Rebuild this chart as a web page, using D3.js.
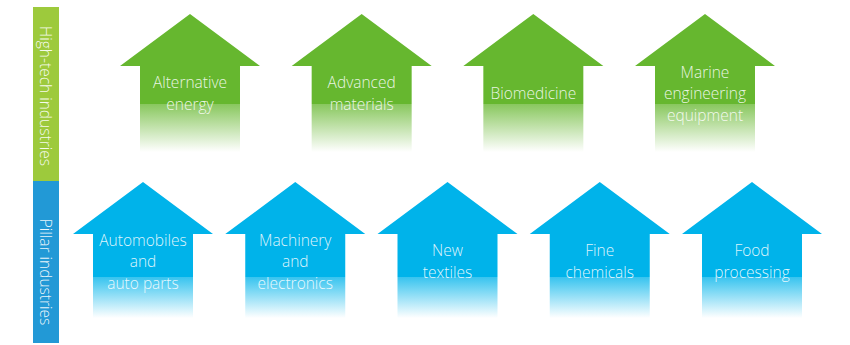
<!DOCTYPE html>
<html>
<head>
<meta charset="utf-8">
<script src="https://cdn.jsdelivr.net/npm/d3@7"></script>
<style>
  html, body { margin: 0; padding: 0; background: #fff; }
  svg { display: block; }
  text { font-family: "Open Sans", "DejaVu Sans", sans-serif; font-weight: 300; }
</style>
</head>
<body>
<svg id="chart" width="850" height="345"></svg>
<script>
// Industry groups and their members (line breaks separated by "|")
const groupNames = ["High-tech industries", "Pillar industries"];
const highTech = ["Alternative|energy", "Advanced|materials", "Biomedicine", "Marine|engineering|equipment"];
const pillar = ["Automobiles|and|auto parts", "Machinery|and|electronics", "New|textiles", "Fine|chemicals", "Food|processing"];

const svg = d3.select("#chart");
const defs = svg.append("defs");

// Row layout: arrow top, arrow bottom, x-range of arrow centres
const rows = [
  { name: groupNames[0], items: highTech, color: "#66b72f", band: "#9dca3c",
    top: 14, bottom: 152, xr: [190, 705], fade: 0.65, bandY: [7, 181], labelY: 96, textY: 99 },
  { name: groupNames[1], items: pillar, color: "#00b3ea", band: "#2299d6",
    top: 182, bottom: 318, xr: [143, 752], fade: 0.70, bandY: [181, 343], labelY: 272, textY: 267 }
];

const headHalf = 70, shaftHalf = 50, headH = 52;
const lineH = 21.5;

// Vertical group bands on the left
const bandX = d3.scaleBand().domain(["band"]).range([33, 59]);

rows.forEach((row, ri) => {
  const g = svg.append("g");

  g.append("rect")
    .attr("x", bandX("band"))
    .attr("width", bandX.bandwidth())
    .attr("y", row.bandY[0])
    .attr("height", row.bandY[1] - row.bandY[0])
    .attr("fill", row.band);

  g.append("text")
    .attr("transform", `translate(${39.5},${row.labelY}) rotate(90)`)
    .attr("text-anchor", "middle")
    .attr("font-size", 15.5)
    .attr("fill", "#fff")
    .attr("fill-opacity", 0.92)
    .text(row.name);

  // Fading gradient for the arrow shafts
  const gid = "fade" + ri;
  const grad = defs.append("linearGradient")
    .attr("id", gid)
    .attr("gradientUnits", "userSpaceOnUse")
    .attr("x1", 0).attr("x2", 0)
    .attr("y1", row.top).attr("y2", row.bottom);
  const light = d3.interpolateRgb(row.color, "#ffffff")(0.22);
  grad.append("stop").attr("offset", 0).attr("stop-color", row.color);
  grad.append("stop").attr("offset", row.fade).attr("stop-color", row.color);
  grad.append("stop").attr("offset", row.fade).attr("stop-color", light);
  grad.append("stop").attr("offset", 1).attr("stop-color", "#ffffff");

  const x = d3.scalePoint().domain(row.items).range(row.xr);
  const y = d3.scaleLinear().domain([0, 1]).range([row.top, row.bottom]);

  const arrows = g.selectAll("g.arrow").data(row.items).join("g")
    .attr("class", "arrow");

  arrows.append("path")
    .attr("fill", `url(#${gid})`)
    .attr("d", d => {
      const cx = x(d);
      const p = d3.path();
      p.moveTo(cx, y(0));
      p.lineTo(cx + headHalf, y(0) + headH);
      p.lineTo(cx + shaftHalf, y(0) + headH);
      p.lineTo(cx + shaftHalf, y(1));
      p.lineTo(cx - shaftHalf, y(1));
      p.lineTo(cx - shaftHalf, y(0) + headH);
      p.lineTo(cx - headHalf, y(0) + headH);
      p.closePath();
      return p.toString();
    });

  arrows.each(function(d) {
    const lines = d.split("|");
    const t = d3.select(this).append("text")
      .attr("text-anchor", "middle")
      .attr("font-size", 15.5)
      .attr("fill", "#fff")
      .attr("fill-opacity", 0.88);
    const y0 = row.textY - (lines.length - 1) * lineH / 2;
    lines.forEach((ln, i) => {
      t.append("tspan")
        .attr("x", x(d))
        .attr("y", y0 + i * lineH)
        .text(ln);
    });
  });
});
</script>
</body>
</html>
